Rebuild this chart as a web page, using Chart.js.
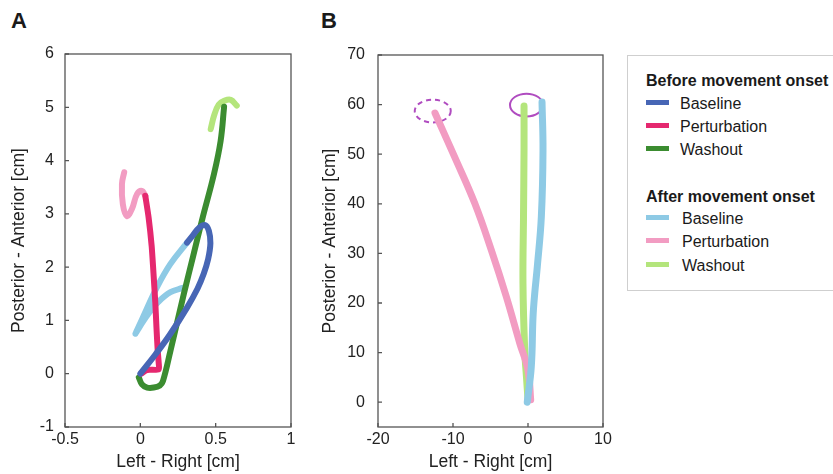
<!DOCTYPE html>
<html>
<head>
<meta charset="utf-8">
<script src="https://cdn.jsdelivr.net/npm/chart.js@4.4.1/dist/chart.umd.min.js"></script>
<style>
body{margin:0;width:833px;height:474px;overflow:hidden;background:#fff;position:relative;font-family:"Liberation Sans",Arial,sans-serif;color:#1a1a1a}
canvas{position:absolute;top:0}
.lab{position:absolute;font-weight:bold;font-size:22px;line-height:22px}
#legend{position:absolute;left:627px;top:55px;width:230px;height:236px;border:1.5px solid #cfcfcf;box-sizing:border-box}
.row{position:absolute;font-size:16px;line-height:18px;white-space:nowrap}
.head{font-weight:bold}
.swatch{position:absolute;width:23px;height:5px}
</style>
</head>
<body>
<div class="lab" style="left:11px;top:10px">A</div>
<div class="lab" style="left:321px;top:10px">B</div>
<canvas id="a" width="300" height="474" style="left:0"></canvas>
<canvas id="b" width="320" height="474" style="left:300px"></canvas>
<div id="legend"></div>
<script>
const xTicksA=[-0.5,0,0.5,1];
const yTicksA=[-1,0,1,2,3,4,5,6];
const xTicksB=[-20,-10,0,10];
const yTicksB=[0,10,20,30,40,50,60,70];
const groups=['Before movement onset','After movement onset'];
const conditions=['Baseline','Perturbation','Washout'];

// panel A, [x, y] in cm
const baselineBeforeA=[[0,0],[0.1,0.36],[0.2,0.75],[0.31,1.24],[0.38,1.6],[0.42,1.87],[0.45,2.15],[0.465,2.45],[0.455,2.68],[0.43,2.79],[0.39,2.74],[0.35,2.6],[0.31,2.46]];
const perturbationBeforeA=[[0.033,3.34],[0.055,2.93],[0.075,2.4],[0.089,1.81],[0.1,1.3],[0.107,0.87],[0.115,0.45],[0.122,0.2],[0.122,0.08],[0.044,0.07],[0.005,0]];
const washoutBeforeA=[[-0.01,-0.07],[0.011,-0.2],[0.045,-0.26],[0.089,-0.26],[0.13,-0.22],[0.15,-0.14],[0.2,0.43],[0.289,1.5],[0.35,2.2],[0.411,2.9],[0.489,3.75],[0.533,4.37],[0.556,5.01]];
const baselineAfterA=[[0.31,2.46],[0.2,2.06],[0.11,1.62],[0.04,1.2],[0,0.95],[-0.033,0.75],[0,0.9],[0.06,1.15],[0.12,1.35],[0.2,1.53],[0.28,1.61]];
const perturbationAfterA=[[0.033,3.34],[0.011,3.43],[-0.022,3.37],[-0.056,3.09],[-0.089,2.96],[-0.116,3.18],[-0.122,3.56],[-0.107,3.78]];
const washoutAfterA=[[0.467,4.59],[0.49,4.85],[0.52,5.05],[0.556,5.12],[0.6,5.14],[0.64,5.03]];

// panel B, [x, y] in cm
const baselineAfterB=[[-0.1,0],[0.44,7.2],[0.67,17.2],[0.9,22],[1.24,27.3],[1.78,37.4],[2,50.8],[1.87,60.5]];
const perturbationAfterB=[[0.36,0.5],[0,6.5],[-1.1,11.9],[-2.9,21.3],[-4.9,30.7],[-7.1,40.1],[-9.8,49.5],[-12.4,58.3]];
const washoutAfterB=[[0,0.5],[-0.2,5],[-0.44,10.5],[-0.67,24],[-0.6,37.4],[-0.53,50.8],[-0.53,59.7]];
// target circles in panel B: centre and radii (cm)
const targetCentersB=[[-0.2,59.9],[-12.7,58.7]];
const targetRadiiB=[[2.2,2.3],[2.4,2.3]];

const colorsBefore=['#4766b5','#e5286f','#3b8c30'];
const colorsAfter=['#8ecae5','#f29cc2','#b4e57c'];
const targetColor='#b04cc0';

function pts(a){return a.map(p=>({x:p[0],y:p[1]}));}
function ds(data,color,w,order,t){
 return {data:pts(data),showLine:true,borderColor:color,borderWidth:w,pointRadius:0,tension:t==null?0.4:t,
  borderCapStyle:'round',borderJoinStyle:'round',order:order,clip:false};
}

const frame={id:'frame',beforeDatasetsDraw(c){
 const {ctx,chartArea:a,scales:{x,y}}=c;
 ctx.save();ctx.strokeStyle='#555';ctx.lineWidth=1.3;
 ctx.strokeRect(a.left,a.top,a.right-a.left,a.bottom-a.top);
 ctx.beginPath();
 x.ticks.forEach(t=>{const p=x.getPixelForValue(t.value);ctx.moveTo(p,a.bottom);ctx.lineTo(p,a.bottom-4);});
 y.ticks.forEach(t=>{const p=y.getPixelForValue(t.value);ctx.moveTo(a.left,p);ctx.lineTo(a.left+4,p);});
 ctx.stroke();ctx.restore();
}};

const targets={id:'targets',beforeDatasetsDraw(c){
 const {ctx,scales:{x,y}}=c;
 ctx.save();ctx.strokeStyle=targetColor;ctx.lineWidth=2;
 targetCentersB.forEach((p,i)=>{
  const cx=x.getPixelForValue(p[0]),cy=y.getPixelForValue(p[1]);
  const rx=Math.abs(x.getPixelForValue(p[0]+targetRadiiB[i][0])-cx);
  const ry=Math.abs(y.getPixelForValue(p[1]+targetRadiiB[i][1])-cy);
  ctx.setLineDash(i==1?[5,4]:[]);
  ctx.beginPath();ctx.ellipse(cx,cy,rx,ry,0,0,Math.PI*2);ctx.stroke();
 });
 ctx.restore();
}};

function opts(xr,yr,xt,yt,o){
 return {responsive:false,animation:false,
  layout:{padding:{top:o.top,right:o.right,left:0,bottom:0}},
  plugins:{legend:{display:false},tooltip:{enabled:false}},
  scales:{
   x:{type:'linear',min:xr[0],max:xr[1],
    afterBuildTicks:s=>{s.ticks=xt.map(v=>({value:v}));},
    afterFit:s=>{s.height=47;},
    grid:{display:false,drawTicks:false},border:{display:false},
    ticks:{padding:3,color:'#222',font:{family:'Liberation Sans',size:16},callback:v=>String(v),autoSkip:false,maxRotation:0},
    title:{display:true,text:'Left - Right [cm]',color:'#222',font:{family:'Liberation Sans',size:17.5},padding:{top:0,bottom:1}}},
   y:{type:'linear',min:yr[0],max:yr[1],
    afterBuildTicks:s=>{s.ticks=yt.map(v=>({value:v}));},
    afterFit:s=>{s.width=o.yw;},
    grid:{display:false,drawTicks:false},border:{display:false},
    ticks:{padding:o.ypad,color:'#222',font:{family:'Liberation Sans',size:16},callback:v=>String(v),autoSkip:false},
    title:{display:true,text:'Posterior - Anterior [cm]',color:'#222',font:{family:'Liberation Sans',size:17.5},padding:{top:o.tpad,bottom:0}}}
  }};
}

new Chart(document.getElementById('a'),{type:'scatter',
 data:{datasets:[
  ds(baselineBeforeA,colorsBefore[0],6,1),
  ds(perturbationBeforeA,colorsBefore[1],6,2,0.2),
  ds(washoutBeforeA,colorsBefore[2],6,3),
  ds(perturbationAfterA,colorsAfter[1],6,4),
  ds(baselineAfterA,colorsAfter[0],6,5),
  ds(washoutAfterA,colorsAfter[2],6,6)]},
 options:opts([-0.5,1],[-1,6],xTicksA,yTicksA,{top:54,right:9,yw:65,ypad:11,tpad:9}),
 plugins:[frame]});

new Chart(document.getElementById('b'),{type:'scatter',
 data:{datasets:[
  ds(baselineAfterB,colorsAfter[0],7,1),
  ds(perturbationAfterB,colorsAfter[1],7,2),
  ds(washoutAfterB,colorsAfter[2],7,3)]},
 options:opts([-20,10],[-5,70],xTicksB,yTicksB,{top:55,right:17,yw:78,ypad:13,tpad:20}),
 plugins:[frame,targets]});

// legend box
const lg=document.getElementById('legend');
const rowTops=[[103,126,149],[218,241,265]];
const headTops=[80,196];
function add(html,cls,left,mid){
 const d=document.createElement('div');d.className=cls;d.innerHTML=html;
 d.style.left=(left-627)+'px';d.style.top=(mid-55-9)+'px';lg.appendChild(d);
}
groups.forEach((g,gi)=>{
 add(g,'row head',645,headTops[gi]);
 conditions.forEach((c,ci)=>{
  const sw=document.createElement('div');sw.className='swatch';
  sw.style.left=(645-627)+'px';sw.style.top=(rowTops[gi][ci]-55-2.5-1.5)+'px';
  sw.style.background=(gi==0?colorsBefore:colorsAfter)[ci];lg.appendChild(sw);
  add(c,'row',gi==0?679:681,rowTops[gi][ci]);
 });
});
</script>
</body>
</html>
